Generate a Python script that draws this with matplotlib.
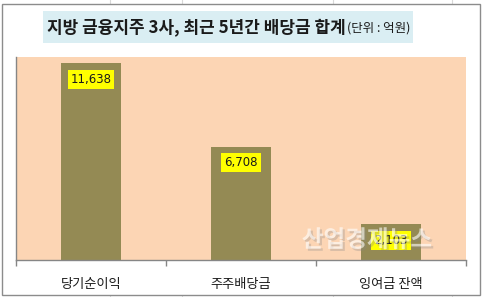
import matplotlib
matplotlib.use("Agg")
import matplotlib.pyplot as plt
from matplotlib.patches import Rectangle
import matplotlib.patheffects as pe

plt.rcParams['font.family'] = ['Noto Sans CJK KR', 'DejaVu Sans']

categories = ["당기순이익", "주주배당금", "잉여금 잔액"]
values = [11638, 6708, 2103]
value_labels = ["11,638", "6,708", "2,103"]
title_main = "지방 금융지주 3사, 최근 5년간 배당금 합계"
title_unit = "(단위 : 억원)"
watermark = "산업경제뉴스"

W, H = 482, 297
fig = plt.figure(figsize=(W / 100, H / 100), dpi=100)
fig.patch.set_facecolor("white")

# faint spreadsheet gridlines behind the chart
for gx in [110, 182, 333, 452]:
    fig.add_artist(plt.Line2D([gx / W, gx / W], [0, 1], color="#d9d9d9", lw=0.8, zorder=0))

# outer chart frame
fig.add_artist(Rectangle((1.5 / W, 2.5 / H), 478.5 / W, 290.5 / H, transform=fig.transFigure,
                         facecolor="white", edgecolor="#8c8c8c", lw=1.0, zorder=1))

# title box
fig.add_artist(Rectangle((43 / W, (H - 43) / H), 370 / W, 32 / H, transform=fig.transFigure,
                         facecolor="#DAEEF3", edgecolor="none", zorder=2))
t1 = fig.text(47 / W, (H - 27) / H, title_main, fontsize=12.2, fontweight="bold",
              ha="left", va="center", color="#1a1a1a", zorder=3)
fig.canvas.draw()
bb = t1.get_window_extent()
fig.text(bb.x1 / W + 1 / W, (H - 28) / H, title_unit, fontsize=9,
         ha="left", va="center", color="#1a1a1a", zorder=3)

ax = fig.add_axes([16 / W, 37 / H, 450 / W, 203 / H])
ax.set_zorder(4)
ax.set_facecolor("#FCD5B4")
x = list(range(len(categories)))
bars = ax.bar(x, values, width=0.4, color="#948A54", zorder=2)
ax.set_xlim(-0.5, len(categories) - 0.5)
ax.set_ylim(0, 12000)

for xi, v, lab in zip(x, values, value_labels):
    ax.annotate(lab, (xi, v), xytext=(0, -11.5), textcoords="offset points",
                ha="center", va="center", fontsize=8.5, color="#1a1a1a",
                family=['DejaVu Sans'],
                bbox=dict(boxstyle="square,pad=0.25", facecolor="#FFFF00", edgecolor="none"),
                zorder=5)

ax.set_xticks(x)
ax.set_xticklabels(categories, fontsize=9.5, color="#1a1a1a")
ax.set_xticks([-0.5 + i for i in range(len(categories) + 1)], minor=True)
ax.tick_params(axis="x", which="major", length=0, pad=13)
ax.tick_params(axis="x", which="minor", length=4, width=1, color="#868686", direction="out")
ax.set_yticks([])
for s in ["top", "right"]:
    ax.spines[s].set_visible(False)
for s in ["left", "bottom"]:
    ax.spines[s].set_color("#868686")
    ax.spines[s].set_linewidth(1)

fig.text(367 / W, (H - 240) / H, watermark, fontsize=17, fontweight="bold",
         color="white", alpha=0.6, ha="center", va="center", zorder=10,
         path_effects=[pe.withSimplePatchShadow(offset=(1.5, -1.5), shadow_rgbFace="#888888", alpha=0.3)])

fig.savefig("out.png", dpi=100)
